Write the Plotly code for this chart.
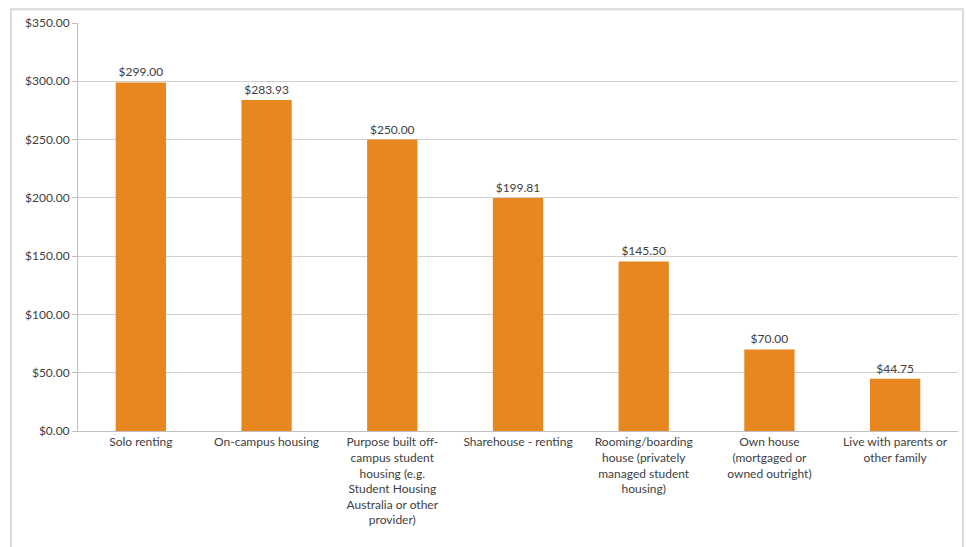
import plotly.graph_objects as go

# Weekly cost by living arrangement
categories = [
    "Solo renting",
    "On-campus housing",
    "Purpose built off-<br>campus student<br>housing (e.g.<br>Student Housing<br>Australia or other<br>provider)",
    "Sharehouse - renting",
    "Rooming/boarding<br>house (privately<br>managed student<br>housing)",
    "Own house<br>(mortgaged or<br>owned outright)",
    "Live with parents or<br>other family",
]
values = [299.00, 283.93, 250.00, 199.81, 145.50, 70.00, 44.75]
y_ticks = [0, 50, 100, 150, 200, 250, 300, 350]
y_tick_labels = ["$%.2f" % v for v in y_ticks]

FONT = "Lato, 'Open Sans', sans-serif"
TEXT = "#404040"
GRID = "#D0D0D0"

fig = go.Figure(
    go.Bar(
        x=categories,
        y=values,
        marker=dict(color="#E8861F", line=dict(width=0)),
        texttemplate="$%{y:.2f}",
        textposition="outside",
        textfont=dict(family=FONT, size=12, color=TEXT),
        cliponaxis=False,
    )
)

fig.update_layout(
    width=966,
    height=547,
    margin=dict(l=78, r=8, t=23, b=116),
    paper_bgcolor="white",
    plot_bgcolor="white",
    bargap=0.6,
    showlegend=False,
    font=dict(family=FONT, size=12, color=TEXT),
    shapes=[
        dict(
            type="rect", xref="paper", yref="paper",
            x0=-0.0761, x1=1.0057, y0=-0.29, y1=1.034,
            line=dict(color="#D9D9D9", width=2),
            fillcolor="rgba(0,0,0,0)", layer="below",
        )
    ],
)

fig.update_yaxes(
    range=[0, 350],
    tickvals=y_ticks,
    ticktext=y_tick_labels,
    showgrid=True,
    gridcolor=GRID,
    gridwidth=1,
    showline=True,
    linecolor="#BFBFBF",
    linewidth=1,
    ticks="outside",
    ticklen=5,
    tickcolor="#BFBFBF",
    zeroline=False,
    tickfont=dict(family=FONT, size=12, color=TEXT),
)
fig.update_xaxes(
    showline=True,
    linecolor="#BFBFBF",
    linewidth=1,
    tickangle=0,
    ticks="",
    tickfont=dict(family=FONT, size=12, color=TEXT),
)

fig.write_html("out.html")
